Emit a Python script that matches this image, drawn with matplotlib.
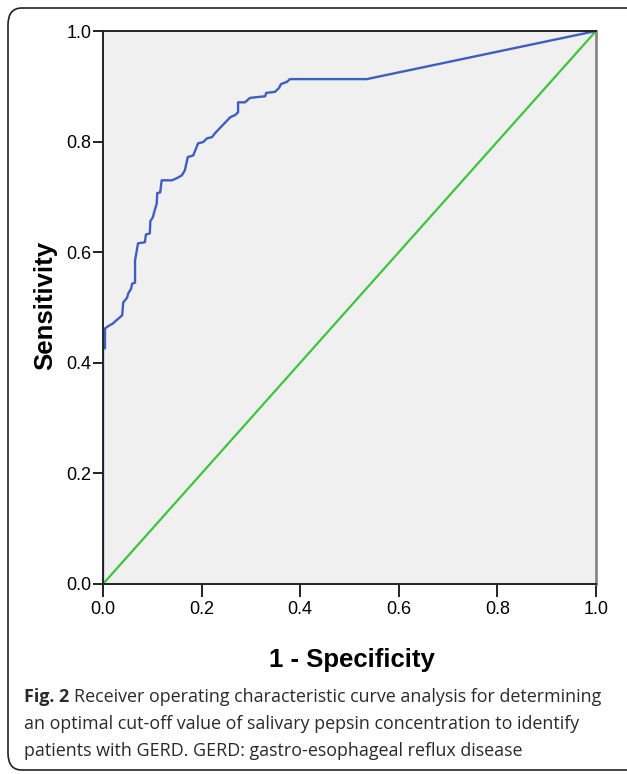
import matplotlib
matplotlib.use("Agg")
import matplotlib.pyplot as plt
from matplotlib.patches import FancyBboxPatch
from matplotlib.font_manager import fontManager

# ROC curve points (1 - specificity, sensitivity)
fpr = [0.0, 0.0, 0.004, 0.004, 0.010, 0.020, 0.026, 0.034, 0.039, 0.041, 0.049, 0.051,
       0.057, 0.059, 0.065, 0.065, 0.071, 0.085, 0.087, 0.095, 0.096, 0.101, 0.105,
       0.109, 0.110, 0.116, 0.119, 0.140, 0.150, 0.160, 0.166, 0.172, 0.183, 0.193,
       0.203, 0.211, 0.221, 0.227, 0.258, 0.268, 0.274, 0.274, 0.288, 0.298, 0.329,
       0.331, 0.349, 0.357, 0.361, 0.373, 0.379, 0.535, 1.0]
tpr = [0.0, 0.426, 0.426, 0.462, 0.466, 0.471, 0.476, 0.482, 0.486, 0.509, 0.518, 0.525,
       0.534, 0.543, 0.545, 0.585, 0.616, 0.618, 0.632, 0.634, 0.656, 0.663, 0.676,
       0.688, 0.707, 0.708, 0.730, 0.730, 0.734, 0.739, 0.748, 0.772, 0.775, 0.797,
       0.799, 0.806, 0.808, 0.815, 0.844, 0.848, 0.853, 0.871, 0.871, 0.879, 0.882,
       0.888, 0.890, 0.897, 0.904, 0.908, 0.913, 0.913, 1.0]
ref_line = [0.0, 1.0]
ticks = [0.0, 0.2, 0.4, 0.6, 0.8, 1.0]
tick_labels = ["0.0", "0.2", "0.4", "0.6", "0.8", "1.0"]

names = {f.name for f in fontManager.ttflist}
tick_font = "Liberation Sans Narrow" if "Liberation Sans Narrow" in names else "Liberation Sans"

W, H = 627, 774
fig = plt.figure(figsize=(W / 100, H / 100), dpi=100)
fig.patch.set_facecolor("white")

# rounded frame
frame = FancyBboxPatch((8 / W, 1 - 770 / H), (660 - 8) / W, (770 - 8) / H,
                       boxstyle="round,pad=0,rounding_size=0.022",
                       transform=fig.transFigure, fill=False,
                       edgecolor="#222222", linewidth=1.2, clip_on=False)
fig.patches.append(frame)

ax = fig.add_axes([103 / W, 1 - 584 / H, (596 - 103) / W, (584 - 31) / H])
ax.set_facecolor("#f0f0f0")
ax.plot(ref_line, ref_line, color="#3ec43e", linewidth=1.6, solid_capstyle="butt")
ax.plot(fpr, tpr, color="#3f5fc0", linewidth=1.7)
ax.set_xlim(0, 1)
ax.set_ylim(0, 1)
ax.set_xticks(ticks)
ax.set_yticks(ticks)
ax.set_xticklabels(tick_labels, fontfamily=tick_font, fontsize=13)
ax.set_yticklabels(tick_labels, fontfamily=tick_font, fontsize=13)
ax.tick_params(axis="x", direction="out", length=9, width=1.4, color="#222222", pad=3)
ax.tick_params(axis="y", direction="out", length=7, width=1.4, color="#222222", pad=1.5)
for s in ["left", "bottom", "top"]:
    ax.spines[s].set_color("#222222")
    ax.spines[s].set_linewidth(1.4)
ax.spines["right"].set_color("#888888")
ax.spines["right"].set_linewidth(2.0)

fig.text(352 / W, 1 - 660 / H, "1 - Specificity", ha="center", va="center",
         fontfamily=tick_font, fontweight="bold", fontsize=18.5)
fig.text(45 / W, 1 - 305 / H, "Sensitivity", ha="center", va="center", rotation=90,
         fontfamily=tick_font, fontweight="bold", fontsize=18.5)

cap_font = "Open Sans"
cap_size = 12.9
cap_color = "#2a2a2a"
t0 = fig.text(24 / W, 1 - 697 / H, "Fig. 2", ha="left", va="center",
              fontfamily=cap_font, fontweight="bold", fontsize=cap_size, color=cap_color)
fig.canvas.draw()
x1 = t0.get_window_extent().x1
fig.text((x1 + 5) / W, 1 - 697 / H, "Receiver operating characteristic curve analysis for determining",
         ha="left", va="center", fontfamily=cap_font, fontsize=cap_size, color=cap_color)
fig.text(24 / W, 1 - 724 / H, "an optimal cut-off value of salivary pepsin concentration to identify",
         ha="left", va="center", fontfamily=cap_font, fontsize=cap_size, color=cap_color)
fig.text(24 / W, 1 - 751 / H, "patients with GERD. GERD: gastro-esophageal reflux disease",
         ha="left", va="center", fontfamily=cap_font, fontsize=cap_size, color=cap_color)

fig.savefig("out.png", dpi=100, facecolor="white")
